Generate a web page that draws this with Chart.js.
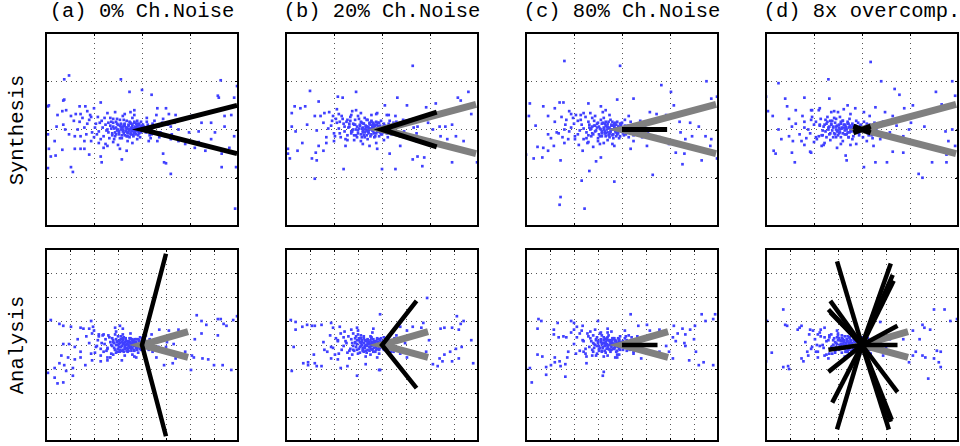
<!DOCTYPE html>
<html>
<head>
<meta charset="utf-8">
<script src="https://cdn.jsdelivr.net/npm/chart.js@4"></script>
<style>
    body { margin: 0; width: 960px; height: 446px; background: #fff; position: relative; overflow: hidden; font-family: "Liberation Mono", monospace; }
    .paneel { position: absolute; }
    .pealkiri { position: absolute; top: 0; width: 240px; font-size: 20.5px; line-height: 24px; text-align: center; white-space: pre; color: #000; }
    .reaNimi { position: absolute; width: 200px; font-size: 20.5px; line-height: 24px; text-align: center; transform: rotate(-90deg); color: #000; }
</style>
</head>
<body>
<script>
// Paneelide pealkirjad ja ridade nimed
const pealkirjad = ['(a) 0% Ch.Noise', '(b) 20% Ch.Noise', '(c) 80% Ch.Noise', '(d) 8x overcomp.'];
const ridadeNimed = ['Synthesis', 'Analysis'];

// Punktipilved (x, y paarid järjest), ülemine rida - süntees
const sunteesA = [-0.81,0.52, -0.76,0.56, -0.22,0.52, 0.82,0.51, 0.99,0.45, -0.13,0.39, 0.0,0.41, 0.10,0.36, 0.79,0.35, 0.80,0.33, 0.96,0.33, -0.81,0.31, -0.82,0.30, -0.98,0.24, -0.97,0.25,
    -0.88,0.15, -0.83,0.19, -0.79,0.20, -0.74,0.14, -0.69,0.16, -0.65,0.24, -0.64,0.16, -0.59,0.24, -0.57,0.19, -0.50,0.22, -0.43,0.28, -0.53,0.13, -0.89,0.03, -0.82,0.05, -0.80,0.00, -0.98,-0.05, -0.91,-0.12, -0.97,-0.20, -0.90,-0.27, -0.95,-0.28, -0.98,-0.40, -0.74,-0.39, -0.72,-0.44, -0.83,-0.21, -0.70,-0.20, -0.64,-0.20, -0.60,-0.20, -0.55,-0.26, -0.43,-0.28, -0.42,-0.34, -0.21,-0.31, -0.16,-0.22, -0.23,-0.20, -0.36,-0.17, -0.45,-0.14, -0.53,-0.12, -0.64,-0.07, -0.70,-0.07, -0.76,-0.05,
    0.22,-0.25, 0.23,-0.34, 0.25,-0.35, 0.30,-0.46, 0.83,-0.39, 0.98,-0.39, 0.97,-0.82, 0.91,-0.19, 0.83,-0.25, 0.66,-0.22, 0.55,-0.19, 0.45,-0.15, 0.38,-0.12, 0.30,-0.10, 0.18,-0.08, 0.10,-0.05, 0.16,-0.12, 0.93,0.15, 0.86,0.14, 0.72,0.07, 0.62,0.07, 0.52,0.14, 0.42,0.10, 0.35,0.15, 0.28,0.16, 0.25,0.22, 0.16,0.22, 0.15,0.15, 0.21,0.07, 0.30,0.03, 0.38,0.00, 0.49,-0.03, 0.59,-0.02, 0.76,-0.03, 0.86,0.03, 0.96,-0.07, 0.72,-0.10, 0.59,-0.13,
    -0.05,0.02, -0.08,-0.01, -0.10,0.03, -0.12,-0.03, -0.15,0.01, -0.18,0.04, -0.20,-0.02, -0.22,0.06, -0.25,0.00, -0.27,-0.05, -0.30,0.03, -0.32,0.08, -0.35,-0.03, -0.38,0.05, -0.40,-0.07, -0.03,-0.04, -0.06,0.06, -0.09,-0.06, -0.13,0.08, -0.16,-0.07, -0.19,0.10, -0.23,-0.09, -0.26,0.11, -0.29,-0.10, -0.33,0.12, -0.36,0.00, -0.42,0.09, -0.45,-0.02, -0.48,0.06, -0.50,-0.08, -0.02,0.01, -0.04,-0.01, -0.07,0.00, -0.11,0.00, -0.14,-0.01, -0.17,-0.02, -0.21,0.02, -0.24,-0.03, 0.02,0.03, 0.04,-0.03, 0.06,0.05, 0.08,-0.06, 0.10,0.02, 0.12,-0.02, -0.01,0.08, -0.10,0.12, -0.20,0.14, -0.30,-0.13, -0.15,-0.12, -0.05,-0.10, -0.55,0.10, -0.60,0.02, -0.58,-0.05, -0.65,0.08, -0.28,0.18, -0.12,0.18, -0.38,-0.15, -0.08,0.15, 0.05,0.12, 0.07,-0.12];
const sunteesATuum = [-0.01,0.03, -0.03,0.06, -0.04,-0.06, -0.06,0.02, -0.07,-0.03, -0.08,0.08, -0.09,0.01, -0.11,-0.05, -0.11,0.06, -0.12,0.01, -0.13,-0.08, -0.14,0.04, -0.15,-0.04, -0.16,0.09, -0.17,0.02, -0.18,-0.06, -0.19,0.05, -0.20,0.00, -0.21,-0.09, -0.22,0.03, -0.23,0.10, -0.24,-0.05, -0.25,0.05, -0.26,-0.01, -0.27,0.08, -0.28,-0.07, -0.29,0.01, -0.30,0.11, -0.31,-0.04, -0.33,0.04, -0.34,-0.09, -0.35,0.07, -0.37,-0.01, -0.39,0.12, -0.41,0.02, -0.43,-0.10, -0.44,0.07, -0.46,0.13, -0.47,-0.05, -0.49,0.02, -0.52,-0.03, -0.54,0.15, -0.57,0.06, -0.60,-0.12, -0.62,0.12, -0.67,0.00, -0.71,0.09, -0.05,0.09, -0.02,-0.08, 0.01,0.05, 0.03,-0.01, 0.05,0.08, 0.07,0.01, 0.09,-0.09, 0.11,0.06, 0.13,0.09, 0.14,-0.04, 0.17,0.03, 0.19,-0.03, 0.22,0.11, 0.24,-0.07, 0.27,0.05, 0.31,-0.05, 0.34,0.07, -0.10,-0.14, -0.18,0.16, -0.25,-0.16, -0.36,0.17, -0.40,-0.19, -0.08,0.20];
const sunteesASydamik = [-0.02,0.00, -0.03,0.02, -0.04,-0.02, -0.05,0.04, -0.06,-0.01, -0.07,0.03, -0.08,-0.04, -0.09,0.01, -0.10,0.05, -0.10,-0.02, -0.11,0.02, -0.12,-0.05, -0.13,0.00, -0.14,0.05, -0.15,-0.03, -0.16,0.02, -0.17,-0.01, -0.18,0.06, -0.19,-0.04, -0.20,0.03, -0.21,-0.06, -0.22,0.00, -0.23,0.04, -0.24,-0.02, -0.26,0.06, -0.27,0.02, -0.28,-0.03, -0.30,0.07, -0.31,-0.06, -0.32,0.01, -0.01,-0.03, 0.00,0.04, 0.01,-0.01, -0.05,0.06, -0.08,0.07, -0.12,0.07, -0.15,-0.07, -0.06,-0.05, -0.03,0.05, -0.09,-0.07];

const sunteesB = [0.32,0.66, -0.75,0.40, -0.27,0.39, -0.46,0.34, -0.41,0.33, -0.66,0.29, -0.91,0.24, -0.94,0.17, -0.85,0.22, -0.80,0.24, 0.16,0.33, 0.26,0.25, 0.03,0.25, 0.90,0.39, 0.79,0.33, 0.82,0.30, 0.93,0.16, 0.56,0.27, 0.46,0.23, 0.73,0.05, 0.66,0.03, 0.60,0.03, 0.53,0.00, 0.77,-0.07, 0.68,-0.10, 0.61,-0.07, 0.85,-0.12, 0.99,-0.34, 0.73,-0.34, 0.44,-0.29, 0.32,-0.31, 0.37,-0.28, 0.42,-0.38, 0.14,-0.41, 0.00,-0.41, -0.05,-0.20, 0.08,-0.25, 0.19,-0.17,
    -0.70,-0.51, -0.40,-0.41, -0.98,-0.25, -0.96,-0.30, -0.98,-0.20, -0.88,-0.22, -0.83,-0.14, -0.73,-0.30, -0.68,-0.32, -0.69,-0.24, -0.61,-0.22, -0.66,-0.17, -0.58,-0.14, -0.49,-0.07, -0.90,-0.02, -0.94,0.03, -0.78,0.05, -0.70,0.14, -0.60,0.17, -0.51,0.14, -0.44,0.08, -0.36,0.10, -0.22,0.17, -0.15,0.10, -0.05,0.17, 0.07,0.15, 0.12,0.07, 0.14,0.14, 0.22,0.10, 0.31,0.07, 0.37,0.03, 0.48,0.07, 0.26,-0.07, 0.36,-0.12, 0.49,-0.15, 0.19,-0.07,
    -0.02,0.01, -0.05,-0.02, -0.07,0.04, -0.10,-0.01, -0.12,0.05, -0.14,-0.04, -0.17,0.02, -0.19,-0.06, -0.21,0.07, -0.24,0.01, -0.26,-0.08, -0.28,0.05, -0.31,-0.02, -0.33,0.09, -0.36,-0.06, -0.39,0.03, -0.41,0.11, -0.44,-0.04, -0.47,0.07, -0.04,0.07, -0.08,-0.08, -0.11,0.09, -0.15,-0.10, -0.18,0.12, -0.22,-0.12, -0.25,0.14, -0.29,-0.11, -0.32,0.15, -0.35,0.02, -0.38,-0.10, -0.01,-0.05, -0.03,0.03, -0.06,0.00, -0.09,0.02, -0.13,0.00, -0.16,0.03, -0.20,-0.01, 0.03,0.04, 0.05,-0.04, 0.07,0.06, 0.09,-0.02, 0.11,0.03, -0.52,0.09, -0.56,0.01, -0.50,-0.12, -0.27,0.20, -0.13,-0.17, -0.06,0.16, 0.02,-0.11, -0.45,0.16];
const sunteesBTuum = [-0.02,0.04, -0.03,-0.07, -0.05,0.01, -0.06,0.08, -0.08,-0.04, -0.09,0.05, -0.10,0.02, -0.12,-0.07, -0.13,0.07, -0.14,0.02, -0.15,-0.02, -0.16,0.10, -0.18,-0.03, -0.19,0.06, -0.20,0.02, -0.21,-0.08, -0.23,0.04, -0.24,0.11, -0.25,-0.04, -0.27,0.00, -0.28,0.10, -0.29,-0.06, -0.30,0.06, -0.32,-0.02, -0.33,0.13, -0.34,0.03, -0.36,-0.11, -0.37,0.08, -0.39,-0.02, -0.40,0.06, -0.42,0.14, -0.43,-0.08, -0.45,0.01, -0.48,0.11, -0.50,-0.04, -0.53,0.04, -0.55,0.18, -0.58,-0.08, -0.61,0.07, -0.64,0.14, -0.68,-0.01, -0.04,-0.02, -0.01,0.09, 0.01,-0.03, 0.02,0.06, 0.04,0.00, 0.06,-0.08, 0.08,0.09, 0.10,-0.05, 0.12,0.05, 0.13,-0.01, 0.15,0.08, 0.18,-0.06, 0.20,0.04, 0.23,-0.02, 0.25,0.09, 0.28,-0.09, 0.33,0.02, 0.36,-0.04, -0.11,0.15, -0.20,-0.15, -0.31,0.19, -0.38,-0.17, -0.06,-0.14, -0.47,0.21, 0.05,0.15];
const sunteesBSydamik = [-0.01,0.01, -0.02,-0.03, -0.04,0.03, -0.05,0.00, -0.06,-0.04, -0.07,0.05, -0.08,0.01, -0.09,-0.02, -0.10,0.04, -0.11,-0.05, -0.12,0.01, -0.13,0.06, -0.14,-0.02, -0.15,0.03, -0.16,-0.06, -0.17,0.04, -0.18,0.00, -0.19,0.06, -0.20,-0.03, -0.21,0.01, -0.22,-0.05, -0.23,0.05, -0.25,-0.01, -0.26,0.03, -0.27,-0.06, -0.29,0.05, -0.30,0.00, -0.32,-0.04, -0.34,0.06, 0.00,-0.05, 0.01,0.03, -0.03,0.07, -0.07,-0.07, -0.11,0.08, -0.14,0.00, -0.18,-0.08, -0.22,0.08, -0.05,0.05, -0.09,0.07, -0.16,-0.01];

const sunteesC = [-0.60,0.71, -0.02,0.66, 0.41,0.46, 0.51,0.39, 0.88,0.50, 0.99,0.34, 0.93,0.32, 0.12,0.32, -0.05,0.31, -0.96,0.27, -0.65,0.28, -0.61,0.28, -0.35,0.27, -0.22,0.24, -0.82,0.24, -0.97,0.14, -0.90,0.04, -0.77,0.14, -0.70,0.22, -0.53,0.16, -0.43,0.15, 0.54,0.25, 0.36,0.16, 0.29,0.18, 0.46,0.15, 0.60,0.08, 0.71,0.07, 0.80,0.03, 0.61,-0.03, 0.73,-0.07, 0.66,-0.10, 0.87,-0.07, 0.93,-0.10, 0.99,-0.30, 0.92,-0.17, 0.83,-0.32, 0.63,-0.36, 0.65,-0.25, 0.56,-0.24, 0.32,-0.47, 0.49,-0.15, 0.39,-0.08, 0.26,-0.17, 0.09,-0.20, 0.12,-0.12,
    -0.08,-0.54, -0.39,-0.82, -0.64,-0.70, -0.65,-0.78, -0.42,-0.53, -0.34,-0.43, -0.27,-0.33, -0.22,-0.29, -0.64,-0.32, -0.92,-0.30, -1.00,-0.26, -0.88,-0.18, -0.82,-0.19, -0.77,-0.22, -0.71,-0.17, -0.83,-0.29, -0.60,-0.14, -0.49,-0.10, -0.60,0.00, -0.77,-0.05, -0.68,-0.03, -0.41,-0.22, -0.36,-0.14, -0.19,-0.14,
    -0.03,0.02, -0.06,-0.03, -0.08,0.05, -0.11,0.00, -0.13,-0.05, -0.16,0.03, -0.18,-0.02, -0.21,0.06, -0.23,-0.07, -0.26,0.02, -0.29,0.09, -0.31,-0.04, -0.34,0.05, -0.37,-0.09, -0.40,0.01, -0.43,0.10, -0.46,-0.05, -0.02,-0.07, -0.05,0.08, -0.09,-0.09, -0.12,0.10, -0.15,-0.11, -0.19,0.12, -0.22,0.00, -0.25,-0.12, -0.28,0.14, -0.32,0.01, -0.35,-0.13, -0.01,0.04, -0.04,-0.01, -0.07,0.01, -0.10,0.04, -0.14,0.01, -0.17,-0.04, 0.02,0.02, 0.04,-0.05, 0.06,0.04, 0.08,0.00, 0.10,-0.03, -0.50,0.06, -0.55,-0.02, -0.48,0.15, -0.20,0.18, -0.10,-0.15, -0.30,-0.18, -0.40,0.17, 0.03,0.10, -0.58,0.10, -0.62,-0.08];
const sunteesCTuum = [-0.01,-0.02, -0.02,0.06, -0.04,0.03, -0.05,-0.05, -0.07,0.07, -0.08,0.02, -0.10,-0.06, -0.11,0.04, -0.12,-0.02, -0.14,0.08, -0.15,0.03, -0.17,-0.07, -0.18,0.06, -0.19,0.00, -0.21,-0.04, -0.22,0.10, -0.24,0.03, -0.25,-0.09, -0.26,0.06, -0.28,-0.02, -0.29,0.04, -0.31,0.12, -0.32,-0.07, -0.34,0.02, -0.35,0.08, -0.37,-0.03, -0.38,0.13, -0.40,-0.10, -0.42,0.05, -0.44,-0.01, -0.46,0.09, -0.49,-0.07, -0.51,0.12, -0.53,0.02, -0.56,-0.10, -0.59,0.05, -0.63,0.13, -0.66,-0.04, -0.70,0.08, -0.74,-0.09, -0.03,-0.09, 0.00,0.07, 0.02,-0.06, 0.03,0.04, 0.05,0.01, 0.07,-0.08, 0.09,0.08, 0.11,0.02, 0.12,-0.06, 0.14,0.05, 0.16,-0.02, 0.19,0.09, 0.21,-0.08, 0.24,0.04, 0.27,-0.04, 0.30,0.08, 0.35,-0.07, -0.13,0.15, -0.23,-0.15, -0.33,0.17, -0.45,-0.16, -0.08,-0.17, -0.55,0.19, 0.07,0.14, -0.17,0.20];
const sunteesCSydamik = [-0.02,-0.01, -0.03,0.03, -0.04,-0.04, -0.05,0.01, -0.06,0.05, -0.07,-0.02, -0.08,0.03, -0.09,-0.05, -0.10,0.00, -0.11,0.05, -0.12,-0.03, -0.13,0.02, -0.14,-0.06, -0.15,0.06, -0.16,0.00, -0.17,0.04, -0.18,-0.04, -0.19,0.02, -0.20,0.07, -0.21,-0.02, -0.23,0.01, -0.24,-0.05, -0.25,0.07, -0.27,-0.01, -0.28,0.04, -0.30,-0.05, -0.31,0.03, -0.33,0.00, -0.35,-0.06, 0.00,0.02, 0.01,-0.04, -0.01,0.06, -0.06,-0.07, -0.10,0.08, -0.13,-0.08, -0.17,0.08, -0.21,-0.07, -0.04,0.00, -0.08,0.06, -0.15,-0.03];

const sunteesD = [0.09,0.70, -0.35,0.52, -0.87,0.48, 0.20,0.50, 0.34,0.42, 0.77,0.39, 0.94,0.50, 0.97,0.35, 0.39,0.36, -1.00,0.34, -0.80,0.32, -0.60,0.33, -0.34,0.32, -0.15,0.25, 0.14,0.23, 0.44,0.22, 0.53,0.25, 0.83,0.26, -0.98,0.19, -0.93,0.14, -0.78,0.24, -0.69,0.20, -0.53,0.20, -0.44,0.22, -0.29,0.19, -0.07,0.22, 0.02,0.18, 0.24,0.18, 0.32,0.14, 0.51,0.07, 0.65,0.03, 0.87,-0.02, 0.94,0.00, 0.90,-0.12, 0.97,-0.17, 0.88,-0.26, 0.88,-0.34, 0.73,-0.34, 0.59,-0.46, 0.63,-0.50,
    0.43,-0.24, 0.32,-0.23, 0.26,-0.34, 0.14,-0.34, 0.02,-0.39, -0.17,-0.27, -0.16,-0.32, -0.26,-0.19, -0.39,-0.14, -0.53,-0.24, -0.54,-0.23, -0.70,-0.34, -0.73,-0.24, -0.90,-0.25, -0.92,-0.22, -0.84,-0.10, -0.76,-0.07, -0.63,-0.12, -0.60,-0.16, -0.48,-0.08, -0.73,0.03, -0.60,0.02, -0.87,0.00, 0.12,-0.17, 0.19,-0.10, 0.29,-0.03, 0.43,-0.07, 0.49,0.00,
    -0.04,0.01, -0.07,-0.03, -0.09,0.04, -0.12,-0.01, -0.14,0.06, -0.17,-0.05, -0.19,0.02, -0.22,0.08, -0.24,-0.04, -0.27,0.03, -0.30,-0.08, -0.32,0.06, -0.35,0.00, -0.38,0.10, -0.41,-0.06, -0.44,0.04, -0.47,-0.10, -0.03,-0.06, -0.06,0.09, -0.10,-0.10, -0.13,0.11, -0.16,0.00, -0.20,-0.12, -0.23,0.13, -0.26,-0.02, -0.29,0.12, -0.33,-0.11, -0.36,0.08, -0.02,0.04, -0.05,-0.02, -0.08,0.00, -0.11,0.02, -0.15,-0.03, -0.18,0.05, 0.04,0.03, 0.06,-0.04, 0.08,0.05, 0.10,-0.06, 0.12,0.01, -0.50,0.05, -0.54,-0.04, -0.52,0.13, -0.25,0.18, -0.12,-0.16, -0.40,-0.16, 0.05,-0.12, -0.60,0.08, -0.45,0.20];
const sunteesDTuum = [-0.01,0.05, -0.03,-0.04, -0.04,0.07, -0.06,-0.01, -0.07,0.04, -0.09,-0.07, -0.10,0.06, -0.11,-0.02, -0.13,0.03, -0.14,-0.08, -0.15,0.08, -0.17,0.01, -0.18,-0.05, -0.20,0.09, -0.21,0.02, -0.22,-0.08, -0.24,0.05, -0.25,-0.01, -0.27,0.11, -0.28,-0.05, -0.30,0.02, -0.31,0.09, -0.33,-0.04, -0.34,0.03, -0.36,0.13, -0.37,-0.08, -0.39,0.05, -0.41,-0.01, -0.43,0.11, -0.45,-0.07, -0.48,0.08, -0.50,-0.13, -0.53,0.10, -0.56,0.00, -0.58,-0.09, -0.62,0.14, -0.65,-0.05, -0.69,0.06, -0.72,-0.12, -0.76,0.11, 0.01,-0.08, 0.02,0.08, 0.03,-0.02, 0.05,0.06, 0.07,-0.06, 0.09,0.03, 0.11,-0.09, 0.13,0.07, 0.15,-0.03, 0.17,0.05, 0.20,-0.07, 0.22,0.08, 0.25,-0.04, 0.28,0.06, 0.32,-0.09, 0.36,0.04, -0.12,0.16, -0.22,-0.15, -0.32,0.18, -0.42,-0.17, -0.06,-0.15, -0.52,0.20, 0.08,0.14, -0.19,0.21];
const sunteesDSydamik = [-0.11,0.00, -0.12,0.04, -0.13,-0.03, -0.14,0.02, -0.15,0.06, -0.16,-0.05, -0.17,0.03, -0.18,-0.01, -0.19,0.05, -0.20,-0.04, -0.21,0.01, -0.22,0.06, -0.23,-0.03, -0.24,0.02, -0.25,-0.06, -0.26,0.04, -0.27,0.00, -0.28,0.07, -0.29,-0.04, -0.30,0.03, -0.31,-0.01, -0.32,0.05, -0.34,-0.05, -0.35,0.02, -0.37,0.06, -0.38,-0.02, -0.40,0.03, -0.42,-0.06, -0.44,0.05, 0.11,0.02, 0.12,-0.04, 0.14,0.04, 0.15,-0.01, 0.17,-0.05, 0.18,0.03, -0.14,-0.08, -0.20,0.09, -0.27,-0.08, -0.33,0.09, -0.23,0.00];

// Alumine rida - analüüs
const analuusA = [-0.95,0.26, -0.82,0.20, -0.86,0.22, -0.74,0.19, -0.64,0.18, -0.61,0.17, -0.53,0.25, -0.51,0.19, -0.55,0.17, -0.50,0.15, -0.23,0.20, -0.20,0.17, -0.28,0.18, -0.40,0.11, -0.45,0.11, -0.67,0.06, -0.76,0.01, -0.82,0.01, -0.70,-0.02, -0.64,-0.07, -0.53,-0.09, -0.43,-0.11, -0.33,-0.13, -0.23,-0.07, -0.36,-0.04, -0.47,-0.01, -0.84,-0.11, -0.77,-0.13, -0.70,-0.15, -0.64,-0.13, -0.81,-0.21, -0.86,-0.19, -0.79,-0.27, -0.91,-0.24, -0.98,-0.29, -0.91,-0.34, -0.88,-0.40, -0.82,-0.39, -0.72,-0.32, -0.72,-0.24, -0.59,-0.21, -0.52,-0.16, -0.43,-0.17, -0.36,-0.16, -0.21,-0.16, -0.06,-0.13,
    0.18,0.16, 0.28,0.15, 0.38,0.16, 0.57,0.31, 0.62,0.25, 0.67,0.21, 0.79,0.27, 0.82,0.27, 0.85,0.22, 0.88,0.20, 0.95,0.26, 0.99,0.30, 0.62,0.12, 0.79,0.10, 0.55,0.06, 0.33,0.01, 0.25,-0.02, 0.11,-0.07, 0.15,-0.13, 0.21,-0.07, 0.32,-0.07, 0.35,-0.14, 0.23,-0.21, 0.32,-0.19, 0.52,-0.11, 0.54,-0.13, 0.63,-0.14, 0.69,-0.15, 0.75,-0.21, 0.84,-0.21, 0.93,-0.26, 0.51,-0.26, 0.45,-0.07, 0.25,0.06, 0.10,0.11, 0.04,0.10,
    -0.02,0.01, -0.04,-0.02, -0.06,0.03, -0.08,0.00, -0.10,-0.03, -0.12,0.02, -0.14,-0.01, -0.16,0.04, -0.18,-0.04, -0.20,0.01, -0.22,0.06, -0.24,-0.02, -0.26,0.03, -0.28,-0.05, -0.30,0.05, -0.32,0.00, -0.34,0.08, -0.36,-0.03, -0.03,0.05, -0.05,-0.05, -0.07,0.06, -0.09,0.03, -0.11,-0.06, -0.13,0.07, -0.15,-0.07, -0.17,0.00, -0.19,0.08, -0.21,-0.06, -0.23,0.02, -0.25,0.09, -0.27,-0.08, -0.29,0.02, -0.01,-0.03, -0.03,0.00, -0.07,-0.01, -0.09,0.05, -0.11,0.01, -0.13,-0.03, 0.02,0.02, 0.04,-0.03, 0.06,0.03, -0.38,0.06, -0.40,-0.07, -0.42,0.02, -0.45,0.09, -0.20,0.11, -0.10,-0.10, -0.30,-0.10, 0.00,0.07, -0.48,-0.02];
const analuusATuum = [-0.01,0.02, -0.02,-0.04, -0.03,0.04, -0.04,0.00, -0.05,-0.03, -0.06,0.06, -0.07,0.02, -0.08,-0.05, -0.09,0.01, -0.10,0.05, -0.11,-0.02, -0.12,0.07, -0.13,0.03, -0.14,-0.06, -0.15,0.02, -0.16,-0.03, -0.17,0.07, -0.18,0.03, -0.19,-0.07, -0.20,0.05, -0.21,-0.01, -0.22,0.09, -0.23,-0.05, -0.24,0.04, -0.25,0.00, -0.26,-0.07, -0.27,0.06, -0.28,0.11, -0.29,-0.03, -0.31,0.07, -0.32,-0.09, -0.33,0.03, -0.35,0.10, -0.37,-0.06, -0.39,0.01, -0.41,0.10, -0.43,-0.04, -0.46,0.05, -0.49,-0.08, -0.52,0.12, -0.55,0.02, -0.58,0.09, -0.02,0.08, -0.04,-0.08, 0.01,0.00, 0.02,-0.06, 0.03,0.05, 0.05,0.00, 0.07,-0.05, 0.08,0.06, 0.10,0.02, 0.12,-0.04, 0.14,0.04, 0.17,-0.02, 0.20,0.07, 0.23,-0.06, 0.26,0.03, -0.12,0.12, -0.18,-0.11, -0.27,0.14, -0.08,-0.12, -0.36,-0.13];
const analuusASydamik = [-0.02,0.02, -0.03,-0.02, -0.05,0.01, -0.06,-0.03, -0.07,0.03, -0.08,-0.01, -0.09,0.04, -0.10,0.00, -0.11,-0.04, -0.12,0.03, -0.13,-0.01, -0.14,0.04, -0.15,-0.04, -0.16,0.01, -0.17,0.05, -0.18,-0.02, -0.19,0.02, -0.20,-0.05, -0.21,0.03, -0.22,-0.02, -0.23,0.05, -0.24,0.01, -0.25,-0.04, -0.26,0.04, -0.27,0.00, -0.28,-0.05, -0.30,0.03, -0.31,-0.01, 0.00,0.03, -0.01,-0.05, -0.04,0.06, -0.08,-0.06, -0.12,0.06, -0.16,-0.06, -0.20,0.07, -0.24,-0.07, -0.06,0.00, -0.14,0.00, -0.18,0.00, -0.10,0.06];

const analuusB = [-0.95,0.26, -0.90,0.24, -0.90,0.16, -0.83,0.19, -0.78,0.21, -0.73,0.20, -0.70,0.20, -0.63,0.21, -0.53,0.23, -0.51,0.18, -0.44,0.19, -0.39,0.14, -0.32,0.16, -0.26,0.18, -0.02,0.32, -0.09,0.17, -0.92,-0.02, -0.94,-0.27, -0.82,-0.19, -0.77,-0.18, -0.77,-0.21, -0.71,-0.10, -0.70,-0.19, -0.68,-0.22, -0.63,-0.22, -0.53,-0.14, -0.49,-0.10, -0.46,-0.15, -0.43,-0.24, -0.36,-0.22, -0.26,-0.32, -0.17,-0.20, -0.03,-0.26, -0.61,0.03, -0.60,-0.05, -0.53,-0.02, -0.46,0.05,
    0.47,0.49, 0.43,0.23, 0.41,0.18, 0.19,0.19, 0.26,0.15, 0.32,0.19, 0.61,0.17, 0.65,0.18, 0.73,0.18, 0.78,0.30, 0.85,0.25, 0.82,0.22, 0.80,0.16, 0.93,0.05, 0.95,-0.19, 0.83,-0.02, 0.77,-0.04, 0.71,-0.07, 0.65,-0.10, 0.60,-0.14, 0.63,-0.17, 0.73,-0.17, 0.80,-0.14, 0.53,-0.20, 0.58,-0.22, 0.49,0.05, 0.46,-0.07, 0.32,-0.09, 0.26,-0.13, 0.19,-0.09, 0.12,-0.07, -0.02,-0.26, 0.09,0.05, 0.15,0.10,
    -0.02,0.00, -0.04,0.03, -0.06,-0.02, -0.08,0.04, -0.10,0.00, -0.12,-0.04, -0.14,0.03, -0.16,-0.01, -0.18,0.05, -0.20,-0.03, -0.22,0.02, -0.24,0.07, -0.26,-0.05, -0.28,0.03, -0.30,-0.01, -0.32,0.06, -0.34,-0.06, -0.03,-0.05, -0.05,0.06, -0.07,0.01, -0.09,-0.07, -0.11,0.08, -0.13,-0.02, -0.15,0.06, -0.17,-0.06, -0.19,0.09, -0.21,0.00, -0.23,-0.08, -0.27,0.09, -0.01,0.03, -0.03,0.01, -0.09,0.02, -0.11,-0.01, 0.01,-0.02, 0.03,0.03, 0.05,-0.04, 0.07,0.02, -0.37,0.02, -0.40,0.08, -0.42,-0.05, -0.25,0.11, -0.12,-0.10, -0.31,-0.10, 0.02,0.08, -0.46,0.04];
const analuusBTuum = [-0.01,-0.01, -0.02,0.05, -0.03,-0.03, -0.04,0.02, -0.05,0.07, -0.06,-0.05, -0.07,0.03, -0.08,0.00, -0.09,0.06, -0.10,-0.04, -0.11,0.03, -0.12,0.09, -0.13,-0.06, -0.14,0.01, -0.15,0.05, -0.16,-0.08, -0.17,0.04, -0.18,-0.01, -0.19,0.07, -0.20,-0.05, -0.21,0.03, -0.22,0.10, -0.23,-0.02, -0.24,0.05, -0.25,-0.09, -0.26,0.01, -0.28,0.07, -0.29,-0.06, -0.30,0.12, -0.31,0.02, -0.33,-0.04, -0.35,0.09, -0.36,-0.08, -0.38,0.04, -0.40,-0.01, -0.43,0.12, -0.45,-0.09, -0.48,0.07, -0.51,-0.03, -0.54,0.10, -0.57,-0.07, -0.03,-0.09, -0.01,0.07, 0.01,0.03, 0.02,-0.05, 0.04,0.06, 0.06,-0.02, 0.08,0.04, 0.09,-0.07, 0.11,0.02, 0.13,0.07, 0.15,-0.03, 0.18,0.05, 0.21,-0.06, 0.24,0.02, 0.27,0.08, -0.10,0.13, -0.17,-0.12, -0.25,0.15, -0.05,-0.13, -0.34,-0.14];
const analuusBSydamik = [-0.01,0.02, -0.02,-0.03, -0.04,0.01, -0.05,-0.04, -0.06,0.04, -0.07,0.00, -0.08,-0.03, -0.09,0.03, -0.10,-0.05, -0.11,0.01, -0.12,0.05, -0.13,-0.02, -0.14,0.03, -0.15,-0.05, -0.16,0.00, -0.17,0.05, -0.18,-0.03, -0.19,0.02, -0.20,-0.06, -0.21,0.05, -0.22,-0.01, -0.23,0.03, -0.24,-0.04, -0.26,0.05, -0.27,-0.02, -0.28,0.02, -0.30,-0.05, 0.00,-0.02, 0.01,0.04, -0.03,0.06, -0.07,-0.07, -0.11,0.07, -0.15,0.02, -0.19,-0.07, -0.22,0.07, -0.09,0.00, -0.13,0.01, -0.17,0.00, -0.05,0.00];

const analuusC = [-0.87,0.27, -0.84,0.25, -0.88,0.17, -0.71,0.16, -0.67,0.23, -0.71,0.11, -0.66,0.08, -0.61,0.09, -0.58,0.08, -0.53,0.25, -0.50,0.23, -0.50,0.16, -0.47,0.19, -0.41,0.20, -0.25,0.25, -0.22,0.13, -0.15,0.17, -0.88,-0.10, -0.83,-0.12, -1.00,-0.25, -0.96,-0.24, -0.94,-0.39, -0.79,-0.31, -0.79,-0.23, -0.74,-0.21, -0.70,-0.18, -0.65,-0.17, -0.64,-0.22, -0.59,-0.20, -0.57,-0.13, -0.70,-0.13, -0.48,-0.09, -0.40,-0.07, -0.37,-0.19, -0.59,-0.33, -0.20,-0.32, -0.19,-0.28, -0.31,-0.11, -0.15,-0.11, -0.05,-0.13,
    0.09,0.32, 0.17,0.20, 0.26,0.21, 0.03,0.15, 0.07,0.10, 0.29,0.15, 0.32,0.11, 0.39,0.16, 0.54,0.20, 0.58,0.12, 0.63,0.17, 0.66,0.11, 0.71,0.16, 0.76,0.20, 0.83,0.32, 0.87,0.25, 0.95,0.27, 0.97,0.32, 0.75,0.06, 0.66,-0.01, 0.56,0.04, 0.53,0.08, 0.49,-0.07, 0.46,-0.01, 0.77,-0.07, 0.65,0.02, 0.70,-0.16, 0.80,-0.21, 0.85,-0.18, 0.95,-0.21, 0.53,-0.14, 0.26,-0.09, 0.20,-0.14, 0.12,-0.09, 0.39,-0.07,
    -0.02,0.02, -0.04,-0.01, -0.06,0.04, -0.08,-0.03, -0.10,0.02, -0.12,0.05, -0.14,-0.04, -0.16,0.01, -0.18,0.06, -0.20,-0.02, -0.22,0.03, -0.24,-0.06, -0.26,0.08, -0.28,0.00, -0.30,-0.07, -0.32,0.04, -0.35,0.09, -0.03,0.06, -0.05,-0.06, -0.07,0.01, -0.09,0.07, -0.11,-0.05, -0.13,0.00, -0.15,0.08, -0.17,-0.08, -0.19,0.02, -0.21,0.10, -0.23,-0.03, -0.01,-0.01, -0.03,0.03, -0.07,-0.02, -0.09,0.00, -0.11,0.03, 0.01,0.04, 0.03,-0.03, 0.05,0.05, 0.08,-0.05, -0.38,-0.04, -0.41,0.05, -0.44,0.12, -0.27,-0.11, -0.15,0.13, -0.05,-0.10, -0.33,0.14, 0.04,0.09];
const analuusCTuum = [-0.01,0.01, -0.02,-0.05, -0.03,0.05, -0.04,-0.02, -0.05,0.02, -0.06,-0.07, -0.07,0.05, -0.08,0.01, -0.09,-0.04, -0.10,0.07, -0.11,0.02, -0.12,-0.05, -0.13,0.04, -0.14,0.10, -0.15,-0.02, -0.16,0.05, -0.17,0.01, -0.18,-0.06, -0.19,0.08, -0.20,0.02, -0.21,-0.07, -0.22,0.05, -0.23,0.12, -0.24,-0.01, -0.25,0.04, -0.26,-0.09, -0.27,0.06, -0.29,0.01, -0.30,0.10, -0.31,-0.05, -0.33,0.07, -0.34,-0.02, -0.36,0.12, -0.38,-0.09, -0.40,0.04, -0.42,0.15, -0.44,-0.06, -0.47,0.08, -0.50,0.01, -0.53,0.13, -0.56,-0.07, -0.02,0.09, -0.03,-0.10, 0.00,0.03, 0.02,-0.02, 0.03,0.07, 0.05,-0.06, 0.07,0.03, 0.09,-0.01, 0.10,0.08, 0.12,-0.07, 0.14,0.03, 0.16,0.09, 0.19,-0.04, 0.22,0.06, 0.25,-0.08, -0.11,0.14, -0.19,-0.12, -0.28,0.16, -0.07,-0.13, -0.37,-0.12];
const analuusCSydamik = [-0.01,-0.02, -0.02,0.03, -0.03,-0.04, -0.05,0.02, -0.06,-0.01, -0.07,0.04, -0.08,-0.04, -0.09,0.01, -0.10,0.05, -0.11,-0.02, -0.12,0.02, -0.13,-0.05, -0.14,0.05, -0.15,0.00, -0.16,-0.04, -0.17,0.03, -0.18,-0.01, -0.19,0.05, -0.20,-0.03, -0.21,0.01, -0.22,0.06, -0.24,-0.04, -0.25,0.02, -0.26,-0.01, -0.27,0.05, -0.29,-0.03, -0.30,0.02, 0.00,0.01, 0.01,-0.05, -0.04,0.07, -0.08,0.07, -0.12,-0.07, -0.16,0.07, -0.21,-0.06, -0.04,0.00, -0.07,0.01, -0.12,0.00, -0.17,0.00];

const analuusD = [-0.99,0.25, -0.82,0.37, -0.80,0.21, -0.78,0.20, -0.67,0.16, -0.65,0.18, -0.63,0.20, -0.54,0.16, -0.51,0.15, -0.43,0.16, -0.39,0.18, -0.46,0.11, -0.34,0.10, -0.26,0.08, -0.94,-0.08, -1.00,-0.17, -0.82,-0.23, -0.77,-0.22, -0.76,-0.25, -0.63,-0.14, -0.61,-0.17, -0.56,-0.11, -0.46,-0.13, -0.48,-0.07, -0.39,-0.11, -0.34,-0.09, -0.53,-0.04, -0.44,-0.01, -0.57,-0.07, -0.29,-0.04, -0.15,-0.07,
    0.19,0.24, 0.20,0.08, 0.29,0.06, 0.43,0.06, 0.60,0.06, 0.53,0.15, 0.63,0.21, 0.65,0.18, 0.71,0.16, 0.75,0.37, 0.86,0.37, 0.92,0.25, 0.99,0.27, 0.78,-0.06, 0.82,-0.07, 0.53,-0.11, 0.56,-0.07, 0.63,-0.11, 0.66,-0.13, 0.75,-0.14, 0.80,-0.18, 0.82,-0.23, 0.69,-0.35, 0.49,-0.18, 0.22,-0.11, 0.29,-0.07, 0.15,-0.04, 0.09,-0.09,
    -0.02,0.01, -0.04,-0.03, -0.06,0.02, -0.08,0.05, -0.10,-0.01, -0.12,0.03, -0.14,-0.05, -0.16,0.06, -0.18,0.00, -0.20,0.04, -0.22,-0.04, -0.24,0.07, -0.26,0.01, -0.28,-0.06, -0.30,0.05, -0.32,-0.02, -0.34,0.08, -0.03,-0.06, -0.05,0.05, -0.07,-0.01, -0.09,0.08, -0.11,-0.06, -0.13,0.01, -0.15,0.09, -0.17,-0.07, -0.19,0.03, -0.21,0.10, -0.23,-0.01, -0.01,0.04, -0.03,0.00, -0.07,0.03, -0.09,-0.03, 0.02,-0.02, 0.04,0.03, 0.06,-0.05, 0.08,0.02, -0.37,0.04, -0.40,-0.03, -0.43,0.09, -0.25,0.12, -0.13,-0.10, -0.31,-0.09, 0.01,0.08, -0.47,0.00];
const analuusDTuum = [-0.01,0.03, -0.02,-0.02, -0.03,0.06, -0.04,-0.06, -0.05,0.01, -0.06,0.04, -0.07,-0.04, -0.08,0.07, -0.09,0.00, -0.10,-0.06, -0.11,0.05, -0.12,0.00, -0.13,0.08, -0.14,-0.03, -0.15,0.04, -0.16,-0.07, -0.17,0.02, -0.18,0.09, -0.19,-0.02, -0.20,0.06, -0.21,-0.08, -0.22,0.01, -0.23,0.05, -0.24,-0.04, -0.25,0.10, -0.27,0.02, -0.28,-0.08, -0.29,0.07, -0.30,0.00, -0.32,0.11, -0.33,-0.05, -0.35,0.05, -0.37,-0.10, -0.39,0.08, -0.41,0.00, -0.44,0.13, -0.46,-0.07, -0.49,0.06, -0.52,-0.02, -0.55,0.11, -0.59,0.03, -0.02,-0.09, -0.01,0.08, 0.01,-0.04, 0.02,0.04, 0.04,-0.01, 0.06,0.07, 0.08,-0.05, 0.10,0.03, 0.12,-0.02, 0.14,0.06, 0.16,-0.06, 0.19,0.02, 0.22,0.08, 0.25,-0.03, -0.12,0.13, -0.18,-0.12, -0.26,0.15, -0.06,-0.12, -0.35,-0.14];
const analuusDSydamik = [-0.02,-0.01, -0.03,0.03, -0.04,-0.03, -0.06,0.02, -0.07,-0.02, -0.08,0.04, -0.09,-0.04, -0.10,0.02, -0.11,-0.01, -0.12,0.05, -0.13,-0.03, -0.14,0.02, -0.15,-0.05, -0.16,0.04, -0.17,0.00, -0.18,-0.04, -0.19,0.05, -0.20,0.01, -0.21,-0.03, -0.22,0.04, -0.23,0.00, -0.24,-0.05, -0.25,0.05, -0.27,-0.02, -0.28,0.03, -0.30,0.00, -0.31,-0.04, 0.00,0.02, -0.01,-0.05, -0.05,0.06, -0.09,-0.07, -0.13,0.07, -0.17,-0.07, -0.21,0.07, -0.05,0.00, -0.10,0.00, -0.14,0.00, -0.19,-0.01];

// Tõelised suunad (hall) ja hinnatud suunad (must), murdjoonte punktid
const toeneSuntees = [[0.98, 0.26], [0, 0], [0.98, -0.25]];
const toeneAnaluus = [[0.48, 0.14], [0, 0], [0.48, -0.13]];
const hinnangSuntees = [
    [[[0.99, 0.25], [0, 0], [0.99, -0.25]]],
    [[[0.57, 0.18], [0, 0], [0.57, -0.18]]],
    [[[0, 0], [0.47, 0]]],
    [[[-0.09, 0.035], [0.09, -0.035]], [[-0.09, -0.035], [0.09, 0.035]], [[-0.09, 0], [0.09, 0]]]
];
const hinnangAnaluus = [
    [[[0.25, 0.95], [0, 0], [0.25, -0.95]]],
    [[[0.36, 0.46], [0, 0], [0.36, -0.45]]],
    [[[0, 0], [0.37, 0]]],
    [[[0, 0], [-0.26, 0.87]], [[0, 0], [0.30, 0.85]], [[0, 0], [0.32, 0.73]], [[0, 0], [0.33, 0.67]],
     [[0, 0], [-0.33, 0.46]], [[0, 0], [-0.35, 0.37]], [[0, 0], [-0.33, 0.34]], [[0, 0], [0.37, 0.20]],
     [[0, 0], [0.37, 0.0]], [[0, 0], [-0.35, -0.05]], [[0, 0], [-0.35, -0.28]], [[0, 0], [0.37, -0.49]],
     [[0, 0], [-0.31, -0.60]], [[0, 0], [-0.26, -0.88]], [[0, 0], [0.30, -0.80]], [[0, 0], [0.28, -0.88]],
     [[0, 0], [0.31, -0.78]]]
];

const punktid = [
    [sunteesA.concat(sunteesATuum, sunteesASydamik), sunteesB.concat(sunteesBTuum, sunteesBSydamik),
     sunteesC.concat(sunteesCTuum, sunteesCSydamik), sunteesD.concat(sunteesDTuum, sunteesDSydamik)],
    [analuusA.concat(analuusATuum, analuusASydamik), analuusB.concat(analuusBTuum, analuusBSydamik),
     analuusC.concat(analuusCTuum, analuusCSydamik), analuusD.concat(analuusDTuum, analuusDSydamik)]
];
const hinnangud = [hinnangSuntees, hinnangAnaluus];
const toesed = [toeneSuntees, toeneAnaluus];
// paneelil (a) ülemises reas katab must joon halli täielikult
const naitaToest = [[false, true, true, true], [true, true, true, true]];

// Paigutus
const veerud = [44, 284, 524, 764];
const laius = 196;
const read = [
    { ylemine: 31, korgus: 197, samm: 0.5, mustLaius: 5 },
    { ylemine: 247, korgus: 196, samm: 0.25, mustLaius: 4.5 }
];

// Plugin, mis joonistab kasti ümber graafiku ja sissepoole suunatud kriipsud
const raamiPlugin = {
    id: 'raam',
    afterDraw(chart) {
        const { ctx, chartArea: a, scales } = chart;
        ctx.save();
        ctx.strokeStyle = '#000';
        ctx.lineWidth = 1;
        ctx.beginPath();
        for (const t of scales.x.ticks) {
            const px = Math.round(scales.x.getPixelForValue(t.value)) + 0.5;
            ctx.moveTo(px, a.top); ctx.lineTo(px, a.top + 3);
            ctx.moveTo(px, a.bottom); ctx.lineTo(px, a.bottom - 3);
        }
        for (const t of scales.y.ticks) {
            const py = Math.round(scales.y.getPixelForValue(t.value)) + 0.5;
            ctx.moveTo(a.left, py); ctx.lineTo(a.left + 3, py);
            ctx.moveTo(a.right, py); ctx.lineTo(a.right - 3, py);
        }
        ctx.stroke();
        ctx.lineWidth = 2;
        ctx.strokeRect(a.left, a.top, a.right - a.left, a.bottom - a.top);
        ctx.restore();
    }
};

// x, y paaride massiiv punktideks
function paarid(massiiv) {
    const tulemus = [];
    for (let i = 0; i < massiiv.length; i += 2) {
        tulemus.push({ x: massiiv[i], y: massiiv[i + 1] });
    }
    return tulemus;
}

function murdjoon(p) {
    return p.map(([x, y]) => ({ x: x, y: y }));
}

// Ühe paneeli joonistamine
function looPaneel(rida, veerg) {
    const r = read[rida];
    const vasak = veerud[veerg];
    const kast = document.createElement('div');
    kast.className = 'paneel';
    kast.style.left = (vasak - 2) + 'px';
    kast.style.top = (r.ylemine - 2) + 'px';
    kast.style.width = (laius + 4) + 'px';
    kast.style.height = (r.korgus + 4) + 'px';
    const louend = document.createElement('canvas');
    louend.width = laius + 4;
    louend.height = r.korgus + 4;
    kast.appendChild(louend);
    document.body.appendChild(kast);

    const andmestikud = [];
    // mustad jooned kõige peal
    for (const joon of hinnangud[rida][veerg]) {
        andmestikud.push({
            data: murdjoon(joon),
            showLine: true,
            borderColor: '#000',
            borderWidth: r.mustLaius,
            borderJoinStyle: 'miter',
            pointRadius: 0
        });
    }
    if (naitaToest[rida][veerg]) {
        andmestikud.push({
            data: murdjoon(toesed[rida]),
            showLine: true,
            borderColor: '#808080',
            borderWidth: 7,
            borderJoinStyle: 'miter',
            pointRadius: 0
        });
    }
    andmestikud.push({
        data: paarid(punktid[rida][veerg]),
        pointStyle: 'rect',
        pointRadius: 1.9,
        pointBorderWidth: 0,
        backgroundColor: 'rgb(64, 64, 255)',
        borderColor: 'rgb(64, 64, 255)'
    });

    const telg = {
        type: 'linear',
        min: -1,
        max: 1,
        ticks: { display: false, stepSize: r.samm, padding: 0 },
        grid: { color: '#555', lineWidth: 1, drawTicks: false },
        border: { display: false, dash: [1, 4] }
    };

    new Chart(louend.getContext('2d'), {
        type: 'scatter',
        data: { datasets: andmestikud },
        options: {
            responsive: false,
            animation: false,
            events: [],
            layout: { padding: 2 },
            plugins: { legend: { display: false }, tooltip: { enabled: false } },
            scales: { x: { ...telg }, y: { ...telg } }
        },
        plugins: [raamiPlugin]
    });
}

// Pealkirjad ja ridade nimed
pealkirjad.forEach((tekst, i) => {
    const d = document.createElement('div');
    d.className = 'pealkiri';
    d.textContent = tekst;
    d.style.left = (veerud[i] + laius / 2 - 120) + 'px';
    document.body.appendChild(d);
});
ridadeNimed.forEach((tekst, i) => {
    const d = document.createElement('div');
    d.className = 'reaNimi';
    d.textContent = tekst;
    const kesk = read[i].ylemine + read[i].korgus / 2;
    d.style.left = (18 - 100) + 'px';
    d.style.top = (kesk - 12) + 'px';
    document.body.appendChild(d);
});

for (let rida = 0; rida < 2; rida++) {
    for (let veerg = 0; veerg < 4; veerg++) {
        looPaneel(rida, veerg);
    }
}
</script>
</body>
</html>
